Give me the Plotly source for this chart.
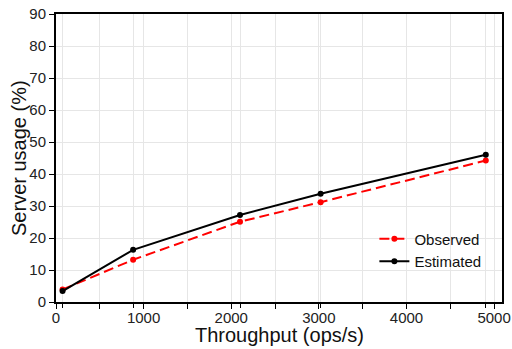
import plotly.graph_objects as go

throughput = [75, 880, 2100, 3020, 4905]
observed = [3.9, 13.2, 25.1, 31.2, 44.2]
estimated = [3.4, 16.3, 27.2, 33.8, 46.0]
x_ticks = [0, 1000, 2000, 3000, 4000, 5000]
y_ticks = [0, 10, 20, 30, 40, 50, 60, 70, 80, 90]

FONT = "Liberation Sans, Arial, sans-serif"
XR = [0, 5090]

fig = go.Figure()
fig.add_trace(go.Scatter(x=throughput, y=observed, name="Observed", mode="lines+markers",
                         line=dict(color="#ff0000", width=2, dash="10px,5px"),
                         marker=dict(color="#ff0000", size=6)))
fig.add_trace(go.Scatter(x=throughput, y=estimated, name="Estimated", mode="lines+markers",
                         line=dict(color="#000000", width=2),
                         marker=dict(color="#000000", size=6)))

fig.update_layout(
    width=512, height=349,
    margin=dict(l=56, r=10, t=14, b=47),
    paper_bgcolor="white", plot_bgcolor="white",
    font=dict(family=FONT, size=15, color="#222"),
    showlegend=True,
    legend=dict(x=0.965, y=0.085, xanchor="right", yanchor="bottom",
                bgcolor="rgba(0,0,0,0)", font=dict(size=15, color="#111"),
                tracegroupgap=0, itemwidth=30),
    xaxis=dict(range=XR, tickvals=x_ticks, ticks="outside", ticklen=5, tickcolor="black",
               showgrid=True, gridcolor="#e6e6e6", gridwidth=1, automargin=False,
               minor=dict(dtick=500, tick0=0, ticks="outside", ticklen=5, tickcolor="black",
                          showgrid=True, gridcolor="#e6e6e6"),
               showline=True, linecolor="black", linewidth=2, mirror=True,
               zeroline=False, ticklabelstandoff=-4,
               tickfont=dict(size=15, color="#222")),
    xaxis2=dict(range=XR, overlaying="x", side="bottom", tickvals=throughput, ticktext=[""] * len(throughput),
                ticks="outside", ticklen=5, tickcolor="black", showgrid=True, gridcolor="#e6e6e6",
                showline=False, zeroline=False, layer="below traces", automargin=False),
    yaxis=dict(range=[0, 90], tickvals=y_ticks, ticks="outside", ticklen=5, tickcolor="black",
               showgrid=True, gridcolor="#e6e6e6", gridwidth=1, automargin=False,
               showline=True, linecolor="black", linewidth=2, mirror=True,
               zeroline=False,
               tickfont=dict(size=15, color="#222")),
    annotations=[
        dict(text="Throughput (ops/s)", xref="paper", yref="paper", x=0.5, y=-0.114,
             xanchor="center", yanchor="middle", showarrow=False,
             font=dict(size=20, color="#111")),
        dict(text="Server usage (%)", xref="paper", yref="paper", x=-0.083, y=0.5,
             xanchor="center", yanchor="middle", showarrow=False, textangle=-90,
             font=dict(size=20, color="#111")),
    ],
)
fig.add_trace(go.Scatter(x=[throughput[0]], y=[None], xaxis="x2", showlegend=False, hoverinfo="skip"))

fig.write_html("out.html", config={"displayModeBar": False},
               post_script="document.body.style.margin='0';document.body.style.padding='0';")
